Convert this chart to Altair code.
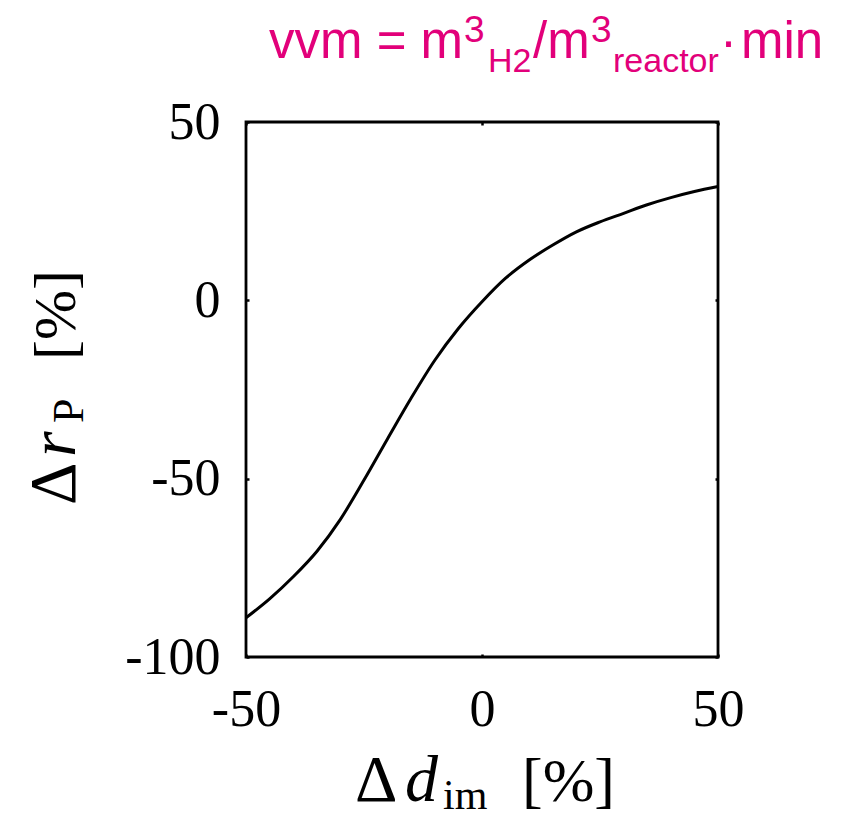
import altair as alt
import pandas as pd

# Curve
d_im = [-50, -45, -40, -35, -30, -25, -20, -15, -10, -5, 0, 5, 10, 15, 20, 25, 30, 35, 40, 45, 50]
r_p = [-89.0, -83.7, -77.5, -70.4, -61.4, -50.4, -38.8, -27.4, -16.8, -7.9, -0.4, 6.2, 11.3, 15.5,
       19.2, 22.0, 24.4, 26.8, 28.8, 30.5, 31.9]

x_ticks = [-50, 0, 50]
y_ticks = [-100, -50, 0, 50]
x_domain = [-50, 50]
y_domain = [-100, 50]

PINK = "#E2007A"
SERIF = "Liberation Serif"
SANS = "Liberation Sans"

df = pd.DataFrame({"x": d_im, "y": r_p})

xs = alt.Scale(domain=x_domain, nice=False, zero=False)
ys = alt.Scale(domain=y_domain, nice=False, zero=False)

common_axis = dict(domain=False, grid=False, tickSize=3, tickWidth=2.5, tickColor="black",
                   offset=-3, labelFont=SERIF, labelFontSize=52, labelColor="black",
                   labelExpr="'' + datum.value", title=None)

line = alt.Chart(df).mark_line(color="black", strokeWidth=3, interpolate="monotone").encode(
    x=alt.X("x:Q", scale=xs, axis=alt.Axis(orient="bottom", values=x_ticks, labelPadding=27,
                                             labelFlush=False, **common_axis)),
    y=alt.Y("y:Q", scale=ys, axis=alt.Axis(orient="left", values=y_ticks, labelPadding=26,
                                             labelFlush=False, **common_axis)),
)

mirror = alt.Chart(df).mark_line(opacity=0).encode(
    x=alt.X("x:Q", scale=xs, axis=alt.Axis(orient="top", values=x_ticks, labels=False, **common_axis)),
    y=alt.Y("y:Q", scale=ys, axis=alt.Axis(orient="right", values=y_ticks, labels=False, **common_axis)),
)

one = pd.DataFrame({"k": [0]})


def piece(text, x, y, size, font=SERIF, color="black", style="normal", angle=0):
    kw = dict(text=text, fontSize=size, font=font, color=color, align="left",
              baseline="alphabetic", fontStyle=style)
    if angle:
        kw["angle"] = angle
    return alt.Chart(one).mark_text(**kw).encode(x=alt.value(x), y=alt.value(y))


# Header: vvm = m3_H2/m3_reactor·min
header_text = ["vvm = m", "3", "H2", "/m", "3", "reactor", "·", "min"]
header_x = [23, 218, 242, 287, 345, 367, 474, 495]
header_y = [-64, -80, -50, -64, -80, -50, -64, -64]
header_size = [51, 37, 34, 51, 37, 34, 51, 51]

# x-axis title: Δd_im [%]
xt_text = ["Δ", "d", "im", "[%]"]
xt_style = ["normal", "italic", "normal", "normal"]
xt_x = [109, 159, 197, 276]
xt_y = [679, 679, 687, 679]
xt_size = [66, 66, 42, 62]

# y-axis title: Δr_P [%]
yt_text = ["Δ", "r", "P", "[%]"]
yt_style = ["normal", "italic", "normal", "normal"]
yt_x = [-171, -171, -163, -171]
yt_y = [383, 335, 301, 238]
yt_size = [66, 66, 44, 60]

layers = [line, mirror]
for t, x, y, s in zip(header_text, header_x, header_y, header_size):
    layers.append(piece(t, x, y, s, font=SANS, color=PINK))
for t, st, x, y, s in zip(xt_text, xt_style, xt_x, xt_y, xt_size):
    layers.append(piece(t, x, y, s, style=st))
for t, st, x, y, s in zip(yt_text, yt_style, yt_x, yt_y, yt_size):
    layers.append(piece(t, x, y, s, style=st, angle=270))

chart = alt.layer(*layers).resolve_axis(x="independent", y="independent").properties(
    width=472, height=535,
    background="white",
    autosize=alt.AutoSizeParams(type="none"),
    padding={"left": 238, "top": 114, "right": 115, "bottom": 161},
).configure_view(stroke="black", strokeWidth=2.8)

chart.save("out.html", embed_options={"renderer": "svg", "actions": False})
